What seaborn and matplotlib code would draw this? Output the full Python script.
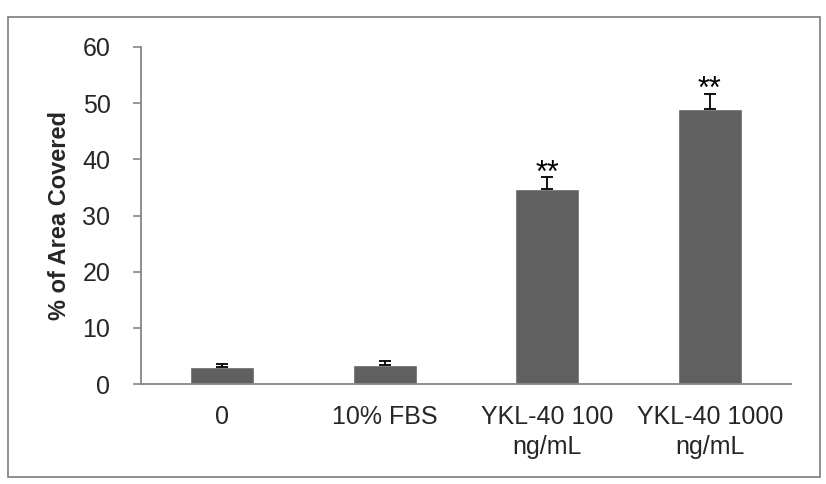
import matplotlib
matplotlib.use("Agg")
import matplotlib.pyplot as plt
from matplotlib.patches import Rectangle
import seaborn as sns
import pandas as pd
import numpy as np

categories = ["0", "10% FBS", "YKL-40 100\nng/mL", "YKL-40 1000\nng/mL"]
area_covered = [3.0, 3.3, 34.8, 48.9]
sem_upper = [0.6, 0.8, 2.0, 2.7]
significance = ["", "", "**", "**"]

sns.set_theme(style="white")
plt.rcParams["font.family"] = ["Liberation Sans", "DejaVu Sans"]

df = pd.DataFrame({"group": categories, "area": area_covered})

fig = plt.figure(figsize=(8.26, 4.84), dpi=100)
ax = fig.add_axes([0.1707, 0.2066, 0.9576 - 0.1707, 0.9029 - 0.2066])

sns.barplot(data=df, x="group", y="area", color="#606060", saturation=1,
            width=0.395, errorbar=None, ax=ax)

x = np.arange(len(categories))
ax.errorbar(x, area_covered, yerr=[np.zeros(len(sem_upper)), sem_upper],
            fmt="none", ecolor="black", elinewidth=1.3, capsize=4.5, capthick=1.3)

for xi, v, e, s in zip(x, area_covered, sem_upper, significance):
    if s:
        ax.annotate(s, (xi, v + e), xytext=(0, -3), textcoords="offset points",
                    ha="center", va="baseline", fontsize=22, color="black")

ax.set_xlim(-0.5, len(categories) - 0.5)
ax.set_ylim(0, 60)
ax.set_yticks(range(0, 61, 10))
ax.set_xlabel("")
ax.set_ylabel("% of Area Covered", fontsize=17, fontweight="bold", labelpad=8)

ax.set_xticks(x)
ax.set_xticklabels(categories, fontsize=18, linespacing=1.3)
ax.set_xticks(np.arange(-0.5, len(categories), 1.0), minor=True)
ax.tick_params(axis="x", which="major", length=0, pad=15)
ax.tick_params(axis="x", which="minor", length=6, width=1.2, color="#868686", direction="out")
ax.tick_params(axis="y", length=6, width=1.2, color="#868686", direction="out",
               labelsize=18, pad=16, left=True)

for side in ["top", "right"]:
    ax.spines[side].set_visible(False)
for side in ["left", "bottom"]:
    ax.spines[side].set_color("#868686")
    ax.spines[side].set_linewidth(1.3)

fig.patches.append(Rectangle((8 / 826, 1 - 477 / 484), (820 - 8) / 826, (477 - 17) / 484,
                             transform=fig.transFigure, fill=False,
                             edgecolor="#868686", linewidth=1.3))

fig.savefig("out.png", dpi=100)
